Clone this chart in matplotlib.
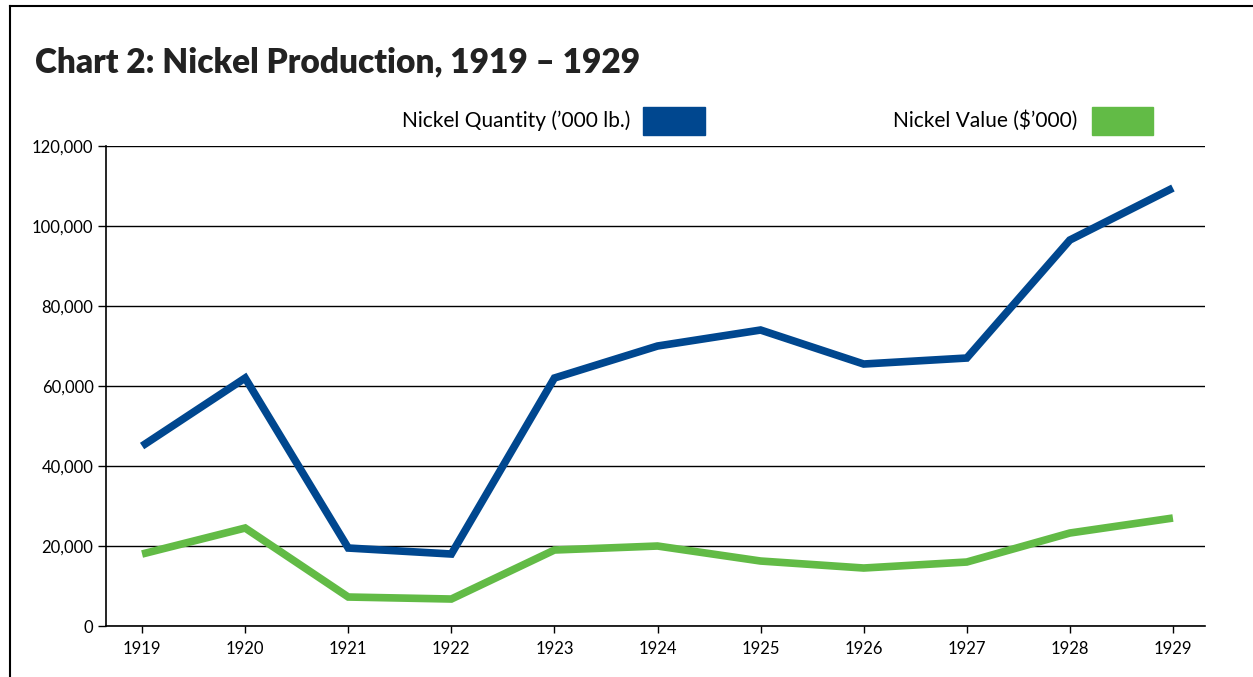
import matplotlib.pyplot as plt
from matplotlib.lines import Line2D
from matplotlib.patches import Rectangle
from matplotlib.ticker import FuncFormatter

plt.rcParams['font.family'] = ['Lato', 'DejaVu Sans']

# datos
years = [1919, 1920, 1921, 1922, 1923, 1924, 1925, 1926, 1927, 1928, 1929]
quantity = [45000, 62000, 19500, 18000, 62000, 70000, 74000, 65500, 67000, 96500, 109500]
value = [18000, 24500, 7250, 6750, 19000, 20000, 16250, 14500, 16000, 23250, 27000]

blue = '#00478F'
green = '#62BB46'

fig = plt.figure(figsize=(12.53, 6.77), dpi=100)
ax = fig.add_axes([0.0846, 0.0753, 0.877, 0.709])

ax.plot(years, quantity, color=blue, lw=5.5, solid_capstyle='butt', solid_joinstyle='miter', zorder=3)
ax.plot(years, value, color=green, lw=5.5, solid_capstyle='butt', solid_joinstyle='miter', zorder=3)

ax.set_xlim(1918.65, 1929.31)
ax.set_ylim(0, 120000)
ax.set_xticks(years)
ax.set_yticks(range(0, 120001, 20000))
ax.yaxis.set_major_formatter(FuncFormatter(lambda v, p: f'{int(v):,}'))
ax.grid(axis='y', color='black', lw=1)
for s in ['top', 'right']:
    ax.spines[s].set_visible(False)
ax.spines['left'].set_linewidth(1.2)
ax.spines['bottom'].set_linewidth(1.2)
ax.tick_params(axis='y', length=6, width=1, labelsize=12, pad=3)
ax.tick_params(axis='x', length=5, width=1, labelsize=12, pad=6)

# titulo
fig.text(35 / 1253, 1 - 62 / 677, 'Chart 2: Nickel Production, 1919 \u2013 1929',
         fontsize=24, fontweight='heavy', va='center', ha='left', color='#222222')

# leyenda manual
fig.text(630 / 1253, 1 - 121 / 677, "Nickel Quantity (\u2019000 lb.)", fontsize=15,
         ha='right', va='center')
fig.patches.append(Rectangle((643 / 1253, 1 - 135 / 677), 62 / 1253, 28 / 677,
                             transform=fig.transFigure, color=blue))
fig.text(1077 / 1253, 1 - 121 / 677, "Nickel Value ($\u2019000)", fontsize=15,
         ha='right', va='center')
fig.patches.append(Rectangle((1092 / 1253, 1 - 135 / 677), 61 / 1253, 28 / 677,
                             transform=fig.transFigure, color=green))

# marco exterior
fig.add_artist(Line2D([10 / 1253, 10 / 1253], [0, 1 - 6 / 677], color='black', lw=1.5))
fig.add_artist(Line2D([10 / 1253, 1], [1 - 6 / 677, 1 - 6 / 677], color='black', lw=1.5))

fig.savefig('out.png', dpi=100)
